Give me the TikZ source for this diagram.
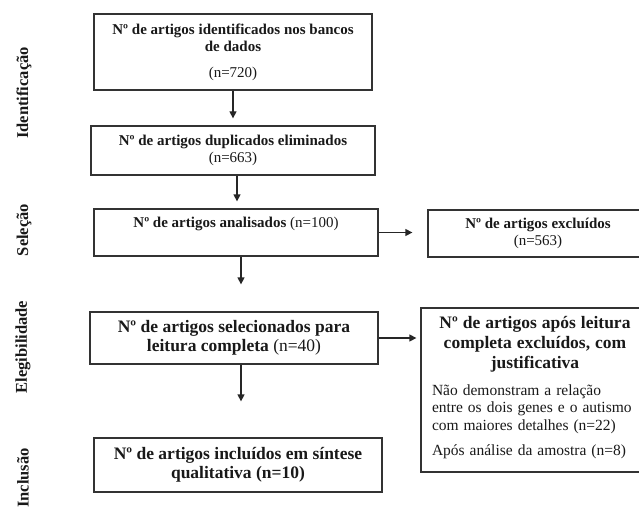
\documentclass[tikz,border=0pt]{standalone}
\usepackage{fontspec}
\setmainfont{Liberation Serif}
\usetikzlibrary{arrows.meta,calc}
\begin{document}
\begin{tikzpicture}[x=1pt,y=-1pt,
  box/.style={draw=black!80, line width=1.3pt, fill=white, inner sep=0pt, align=center,
    text=black!90, font=\fontsize{15}{17}\selectfont},
  bigbox/.style={box, font=\fontsize{17.5}{19}\selectfont},
  conn/.style={draw=black!85, line width=1.3pt, -{Triangle[length=7pt,width=7pt]}},
  side/.style={rotate=90, font=\fontsize{16.5}{18}\selectfont\bfseries, text=black!90}]
\clip (0,0) rectangle (639,508);
\fill[white] (0,0) rectangle (639,508);

% side labels
\node[side] (lid) at (24,93) {Identificação};
\node[side] (lsel) at (24,230) {Seleção};
\node[side] (leleg) at (23,347) {Elegibilidade};
\node[side] (linc) at (23,478) {Inclusão};

% boxes
\node[box, minimum width=278, minimum height=76] (b1) at (233,52)
  {\textbf{Nº de artigos identificados nos bancos}\\ \textbf{de dados}\\[9pt] (n=720)};
\node[box, minimum width=284, minimum height=49] (b2) at (233,150.5)
  {\textbf{Nº de artigos duplicados eliminados}\\ (n=663)};
\node[box, minimum width=284, minimum height=47] (b3) at (236,232.5)
  {\textbf{Nº de artigos analisados} (n=100)\\[-2pt] \strut};
\node[box, minimum width=220, minimum height=47] (ex) at (538,233.5)
  {\textbf{Nº de artigos excluídos}\\ (n=563)};
\node[bigbox, minimum width=288, minimum height=52] (b4) at (234,338)
  {\textbf{Nº de artigos selecionados para}\\ \textbf{leitura completa} (n=40)};
\node[box, minimum width=228, minimum height=164, text width=206, align=left] (rb) at (535,390)
  {{\centering\fontsize{17.5}{20}\selectfont\bfseries Nº de artigos após leitura\\ completa excluídos, com\\ justificativa\par}
   \vspace{9pt}
   {\fontsize{15.5}{17.5}\selectfont Não demonstram a relação\\ entre os dois genes e o autismo\\ com maiores detalhes (n=22)\par
   \vspace{8pt}
   Após análise da amostra (n=8)\par}\vspace{4pt}};
\node[bigbox, minimum width=288, minimum height=54] (b5) at (238,465)
  {\textbf{Nº de artigos incluídos em síntese}\\ \textbf{qualitativa (n=10)}};

% connectors
\draw[conn, shorten >=7pt] (b1.south) -- (b2.north);
\draw[conn, shorten >=7pt] ($(b2.south)+(4,0)$) -- ($(b3.north)+(1,0)$);
\draw[conn, shorten >=27pt] ($(b3.south)+(5,0)$) -- ($(b4.north)+(7,0)$);
\draw[conn, shorten >=36pt] ($(b4.south)+(7,0)$) -- ($(b5.north)+(3,0)$);
\draw[conn, shorten >=15pt] (b3.east) -- (b3.east -| ex.west);
\draw[conn, shorten >=4pt] (b4.east) -- (b4.east -| rb.west);
\end{tikzpicture}
\end{document}
